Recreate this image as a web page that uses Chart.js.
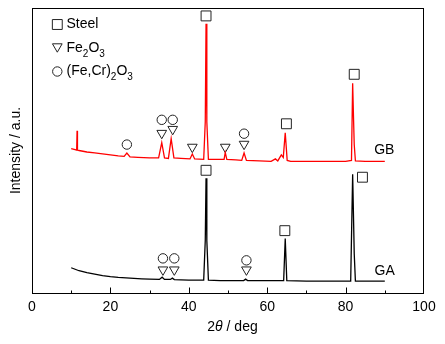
<!DOCTYPE html>
<html>
<head>
<meta charset="utf-8">
<script src="https://cdn.jsdelivr.net/npm/chart.js@4.4.0/dist/chart.umd.min.js"></script>
<style>
html, body { margin: 0; padding: 0; background: #fff; }
#wrap { width: 445px; height: 344px; position: relative; }
</style>
</head>
<body>
<div id="wrap"><canvas id="xrdChart"></canvas></div>
<script>
const FONT = "'Liberation Sans', Arial, sans-serif";

// GB sample (red, upper trace)
const gbAngle = [10, 11, 11.4, 11.5, 11.6, 12, 14, 16, 18, 20, 22, 23.5, 24.2, 25, 27, 30, 32.3, 33.1, 33.8, 34.8,
    35.5, 36.2, 38, 40.3, 40.9, 41.5, 43.8, 44.2, 44.4, 44.6, 45, 47, 49, 49.3, 49.7, 52, 53.5, 54.1, 54.7, 58,
    61, 62.1, 62.7, 63.6, 64.1, 64.6, 65.1, 66, 70, 75, 80, 81.5, 81.8, 82.0, 82.2, 82.5, 85, 90];
const gbCounts = [146, 145, 144.5, 164, 144.5, 144, 142.5, 141.5, 140.5, 139.5, 138.5, 138, 141.5, 137.5, 137, 136.5, 136.5, 152, 136.5, 136,
    156, 136.5, 136, 135.5, 140.5, 135.5, 135, 173, 272, 173, 135, 135, 135, 142, 135, 134.5, 134, 141.5, 134, 133.5,
    133, 135.5, 133.5, 139.5, 137, 162, 134, 133, 133, 133, 133, 134, 212, 180, 150, 133.5, 133, 133];

// GA sample (black, lower trace)
const gaAngle = [10, 11, 12, 14, 16, 18, 20, 22, 25, 28, 30, 32.5, 33.2, 33.8, 35.3, 35.8, 36.3, 38, 40, 43.8,
    44.2, 44.4, 44.6, 45, 48, 54, 54.5, 55, 60, 64.2, 64.6, 65.0, 70, 81.3, 81.8, 82.0, 82.2, 82.5, 86, 90];
const gaCounts = [25.5, 24, 22.5, 20.5, 19, 17.5, 16.5, 15.7, 15, 14.3, 14, 13.7, 16, 13.7, 13.7, 15, 13.5, 13.3, 13, 13,
    53, 116, 53, 13, 12.5, 12.5, 14, 12.5, 12.5, 12.5, 55, 12.5, 12, 12, 120, 80, 40, 12, 12, 12];

// phase markers
const steelX = [44.4, 64.9, 82.2, 44.4, 64.5, 84.3];
const steelY = [280, 171, 221, 124, 63, 117];
const fe2o3X = [33.1, 35.9, 40.9, 49.3, 54.1, 33.4, 36.3, 54.7];
const fe2o3Y = [161.5, 165.5, 147.5, 147.5, 150.5, 23.5, 23.5, 23.5];
const chromiteX = [24.2, 33.1, 35.9, 54.1, 33.4, 36.3, 54.7];
const chromiteY = [150, 175, 175, 161, 35, 35, 33];

// sample labels
const sampleNames = ['GB', 'GA'];
const sampleLabelX = [87.3, 87.4];
const sampleLabelY = [144, 22];

const xTicks = [0, 20, 40, 60, 80, 100];

function toPoints(xs, ys) {
    return xs.map((x, i) => ({ x: x, y: ys[i] }));
}

function markerSet(xs, ys, style, radius, rotation) {
    return {
        type: 'scatter',
        data: toPoints(xs, ys),
        showLine: false,
        pointStyle: style,
        pointRadius: radius,
        pointHoverRadius: radius,
        pointRotation: rotation,
        pointBorderWidth: 1,
        borderColor: '#222',
        backgroundColor: 'rgba(0,0,0,0)',
        pointBackgroundColor: 'rgba(0,0,0,0)',
        pointBorderColor: '#222',
        clip: false
    };
}

function drawRich(ctx, parts, x, y) {
    parts.forEach(p => {
        if (p[1]) {
            ctx.font = '10px ' + FONT;
            ctx.fillText(p[0], x, y + 6);
        } else {
            ctx.font = '14px ' + FONT;
            ctx.fillText(p[0], x, y);
        }
        x += ctx.measureText(p[0]).width;
    });
}

const decorPlugin = {
    id: 'decor',
    afterDraw(chart) {
        const ctx = chart.ctx;
        const area = chart.chartArea;
        const xs = chart.scales.x;
        const ys = chart.scales.y;
        ctx.save();

        // frame
        ctx.strokeStyle = '#000';
        ctx.lineWidth = 1;
        const l = Math.round(area.left) + 0.5, r = Math.round(area.right) - 0.5;
        const t = Math.round(area.top) + 0.5, b = Math.round(area.bottom) + 0.5;
        ctx.strokeRect(l, t, r - l, b - t);

        // inward ticks on bottom axis
        ctx.beginPath();
        for (let v = 10; v < 100; v += 10) {
            const px = Math.round(xs.getPixelForValue(v)) + 0.5;
            const len = v % 20 === 0 ? 6 : 3;
            ctx.moveTo(px, b);
            ctx.lineTo(px, b - len);
        }
        ctx.stroke();

        // sample labels
        ctx.fillStyle = '#000';
        ctx.font = '14px ' + FONT;
        ctx.textAlign = 'left';
        ctx.textBaseline = 'middle';
        sampleNames.forEach((name, i) => {
            ctx.fillText(name, xs.getPixelForValue(sampleLabelX[i]), ys.getPixelForValue(sampleLabelY[i]));
        });

        // legend
        const legendRows = [
            { style: 'rect', r: 7, rot: 0, dy: 0, parts: [['Steel', 0]] },
            { style: 'triangle', r: 5.6, rot: 180, dy: -1.4, parts: [['Fe', 0], ['2', 1], ['O', 0], ['3', 1]] },
            { style: 'circle', r: 4.7, rot: 0, dy: 0, parts: [['(Fe,Cr)', 0], ['2', 1], ['O', 0], ['3', 1]] }
        ];
        const rowY = [24.5, 48, 71.5];
        legendRows.forEach((row, i) => {
            ctx.strokeStyle = '#222';
            ctx.fillStyle = 'rgba(0,0,0,0)';
            ctx.lineWidth = 1;
            Chart.helpers.drawPoint(ctx, { pointStyle: row.style, radius: row.r, rotation: row.rot, borderWidth: 1 },
                57.3, rowY[i] + row.dy);
            ctx.fillStyle = '#000';
            drawRich(ctx, row.parts, 66.5, rowY[i]);
        });

        // y title
        ctx.save();
        ctx.translate(16, (area.top + area.bottom) / 2);
        ctx.rotate(-Math.PI / 2);
        ctx.font = '14px ' + FONT;
        ctx.textAlign = 'center';
        ctx.textBaseline = 'middle';
        ctx.fillStyle = '#000';
        ctx.fillText('Intensity / a.u.', 0, 0);
        ctx.restore();

        // x title: 2θ / deg with italic theta
        const pieces = [['2', '14px '], ['\u03B8', 'italic 14px '], [' / deg', '14px ']];
        let total = 0;
        pieces.forEach(p => { ctx.font = p[1] + FONT; total += ctx.measureText(p[0]).width; });
        let x = 232.5 - total / 2;
        ctx.textAlign = 'left';
        ctx.textBaseline = 'middle';
        pieces.forEach(p => {
            ctx.font = p[1] + FONT;
            ctx.fillText(p[0], x, 327);
            x += ctx.measureText(p[0]).width;
        });

        ctx.restore();
    }
};

const ctx = document.getElementById('xrdChart').getContext('2d');
new Chart(ctx, {
    data: {
        datasets: [
            {
                type: 'line',
                label: 'GB',
                data: toPoints(gbAngle, gbCounts),
                borderColor: '#ff0000',
                borderWidth: 1.3,
                pointRadius: 0,
                tension: 0,
                fill: false
            },
            {
                type: 'line',
                label: 'GA',
                data: toPoints(gaAngle, gaCounts),
                borderColor: '#000000',
                borderWidth: 1.3,
                pointRadius: 0,
                tension: 0,
                fill: false
            },
            markerSet(steelX, steelY, 'rect', 7, 0),
            markerSet(fe2o3X, fe2o3Y, 'triangle', 5.6, 180),
            markerSet(chromiteX, chromiteY, 'circle', 4.7, 0)
        ]
    },
    options: {
        responsive: true,
        maintainAspectRatio: false,
        animation: false,
        devicePixelRatio: 1,
        layout: { padding: { left: 0, right: 21, top: 5, bottom: 0 } },
        plugins: {
            legend: { display: false },
            tooltip: { enabled: false }
        },
        scales: {
            x: {
                type: 'linear',
                min: 0,
                max: 100,
                grid: { display: false, drawTicks: false },
                border: { display: false },
                afterBuildTicks: scale => { scale.ticks = xTicks.map(v => ({ value: v })); },
                afterFit: scale => { scale.height = 51; },
                ticks: {
                    autoSkip: false,
                    maxRotation: 0,
                    padding: 6,
                    color: '#000',
                    font: { family: FONT, size: 14 }
                }
            },
            y: {
                type: 'linear',
                min: 0,
                max: 288,
                grid: { display: false, drawTicks: false },
                border: { display: false },
                ticks: { display: false },
                afterFit: scale => { scale.width = 32; }
            }
        }
    },
    plugins: [decorPlugin]
});
</script>
</body>
</html>
